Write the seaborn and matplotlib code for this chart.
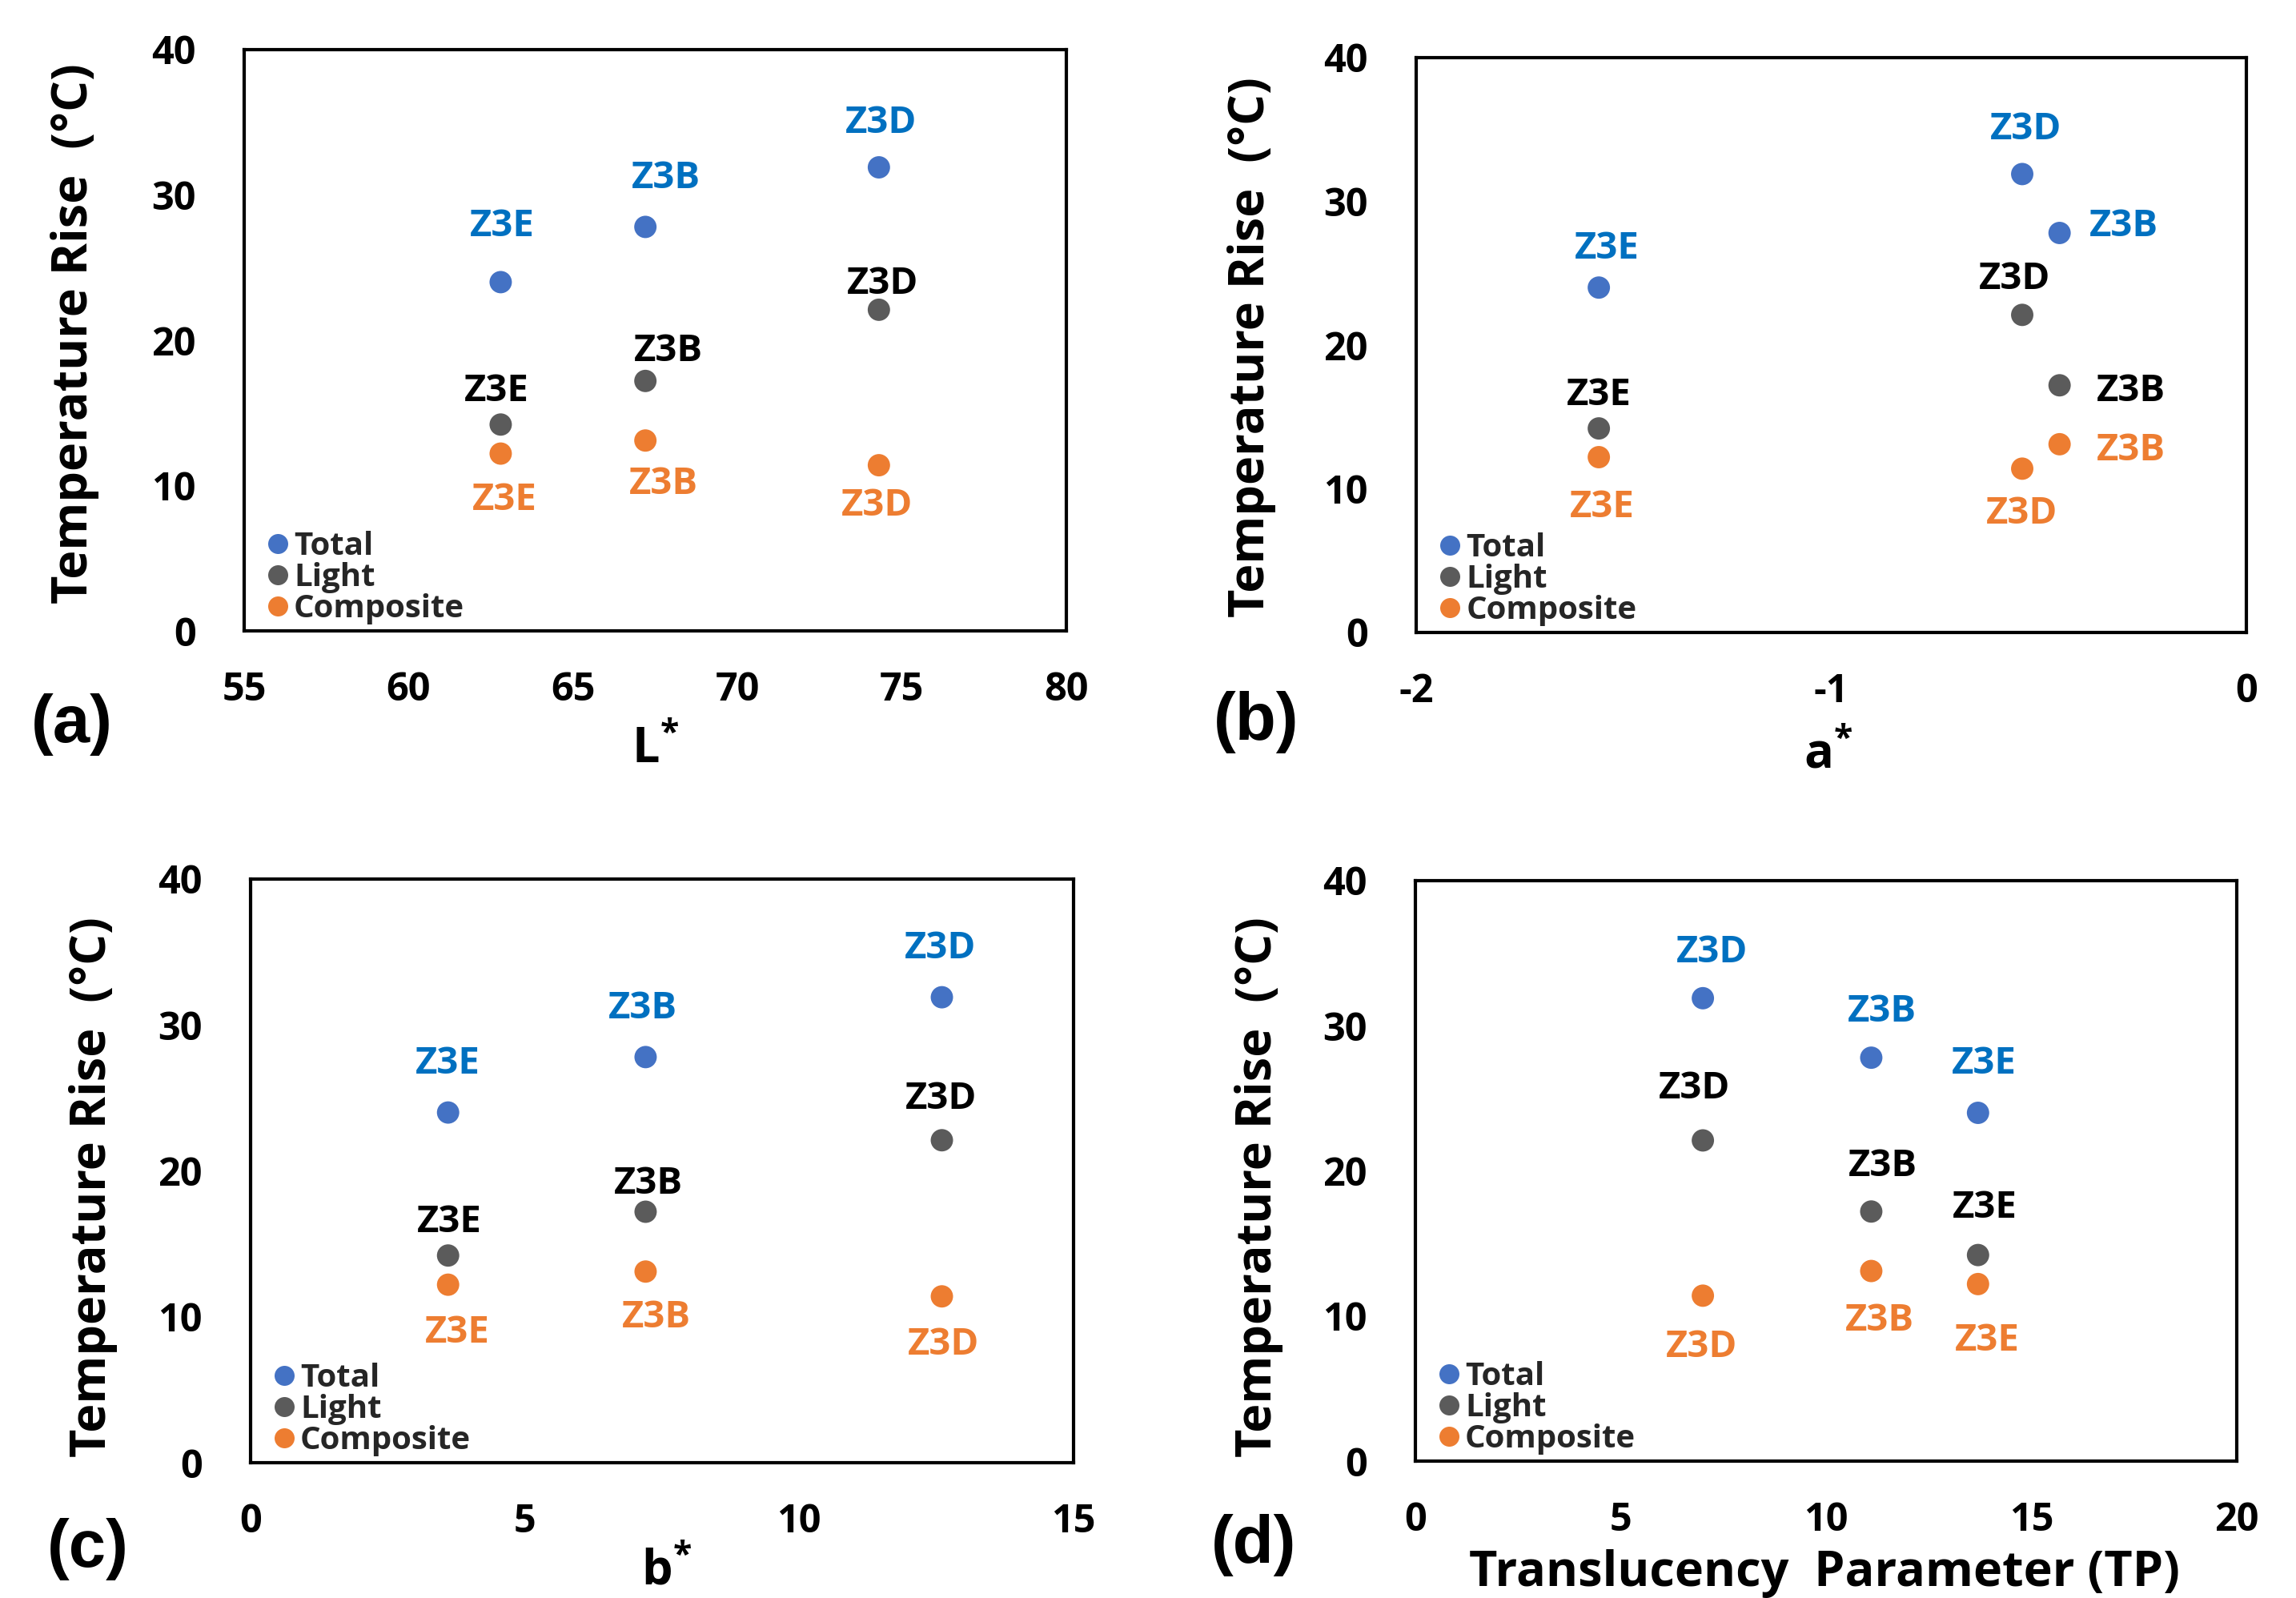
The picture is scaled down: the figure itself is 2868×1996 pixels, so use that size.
import matplotlib
matplotlib.use("Agg")
import matplotlib.pyplot as plt
import seaborn as sns
import pandas as pd
from matplotlib.lines import Line2D

# ---------------- data ----------------
samples = ["Z3E", "Z3B", "Z3D"]
L_star = [62.8, 67.2, 74.3]
a_star = [-1.56, -0.45, -0.54]
b_star = [3.6, 7.2, 12.6]
tp_values = [13.7, 11.1, 7.0]

total_rise = [24.0, 27.8, 31.9]
light_rise = [14.2, 17.2, 22.1]
composite_rise = [12.2, 13.1, 11.4]

series_names = ["Total", "Light", "Composite"]
panel_letters = ["(a)", "(b)", "(c)", "(d)"]
x_labels = ["L$^{*}$", "a$^{*}$", "b$^{*}$", "Translucency  Parameter (TP)"]
y_label = "Temperature Rise  (°C)"
x_limits = [(55, 80), (-2, 0), (0, 15), (0, 20)]
x_ticks = [[55, 60, 65, 70, 75, 80], [-2, -1, 0], [0, 5, 10, 15], [0, 5, 10, 15, 20]]
y_ticks = [0, 10, 20, 30, 40]

# ---------------- style ----------------
W, H, DPI = 2868, 1996, 200
PX = 72.0 / DPI  # pixel -> points
FONT = "Open Sans"

marker_colors = {"Total": "#4472C4", "Light": "#5B5B5B", "Composite": "#ED7D31"}
label_colors = {"Total": "#0070C0", "Light": "#000000", "Composite": "#ED7D31"}

sns.set_theme(style="white")
plt.rcParams["font.family"] = [FONT, "DejaVu Sans"]
plt.rcParams["font.weight"] = "bold"
plt.rcParams["axes.unicode_minus"] = False
plt.rcParams["mathtext.fontset"] = "custom"
plt.rcParams["mathtext.rm"] = FONT + ":bold"
plt.rcParams["mathtext.it"] = FONT + ":bold"
plt.rcParams["mathtext.bf"] = FONT + ":bold"
plt.rcParams["mathtext.default"] = "rm"

# axes rectangles in pixels: left, top, right, bottom
axes_px = [(305, 62, 1332, 788), (1769, 72, 2806, 790),
           (313, 1098, 1341, 1827), (1768, 1100, 2794, 1825)]
ylabel_pos = [(-0.206, 0.512), (-0.198, 0.497), (-0.191, 0.472), (-0.1905, 0.473)]
xlabel_pos = [(0.50, -0.226), (0.496, -0.235), (0.505, -0.2085), (0.498, -0.215)]
letter_px = [(90, 905), (1569, 902), (110, 1935), (1566, 1930)]

# label offsets (pixels), per panel / series / sample (Z3E, Z3B, Z3D): (dx, dy, ha)
label_offsets = [
    {"Total": [(2, 57, "center"), (26, 48, "center"), (3, 43, "center")],
     "Light": [(-5, 29, "center"), (29, 25, "center"), (5, 20, "center")],
     "Composite": [(5, -70, "center"), (23, -67, "center"), (-2, -63, "center")]},
    {"Total": [(10, 36, "center"), (37, -4, "left"), (5, 43, "center")],
     "Light": [(0, 29, "center"), (46, -20, "left"), (-9, 32, "center")],
     "Composite": [(4, -75, "center"), (46, -20, "left"), (0, -69, "center")]},
    {"Total": [(0, 49, "center"), (-4, 48, "center"), (-2, 49, "center")],
     "Light": [(2, 29, "center"), (3, 23, "center"), (-1, 39, "center")],
     "Composite": [(12, -72, "center"), (13, -70, "center"), (2, -73, "center")]},
    {"Total": [(8, 49, "center"), (14, 45, "center"), (11, 45, "center")],
     "Light": [(9, 47, "center"), (15, 44, "center"), (-11, 52, "center")],
     "Composite": [(12, -83, "center"), (11, -74, "center"), (-2, -77, "center")]},
]

x_sets = [L_star, a_star, b_star, tp_values]
y_sets = {"Total": total_rise, "Light": light_rise, "Composite": composite_rise}

fig = plt.figure(figsize=(W / DPI, H / DPI), dpi=DPI)

for i in range(4):
    l, t, r, b = axes_px[i]
    ax = fig.add_axes([l / W, 1 - b / H, (r - l) / W, (b - t) / H])
    rows = []
    for s in series_names:
        for k, smp in enumerate(samples):
            rows.append({"x": x_sets[i][k], "y": y_sets[s][k], "series": s, "sample": smp})
    df = pd.DataFrame(rows)
    sns.scatterplot(data=df, x="x", y="y", hue="series", hue_order=series_names,
                    palette=marker_colors, s=101, linewidth=0, legend=False,
                    ax=ax, zorder=3)
    for _, row in df.iterrows():
        k = samples.index(row["sample"])
        dx, dy, ha = label_offsets[i][row["series"]][k]
        ax.annotate(row["sample"], xy=(row["x"], row["y"]),
                    xytext=(dx * PX, dy * PX), textcoords="offset points",
                    ha=ha, va="baseline", fontsize=17, fontweight="bold",
                    color=label_colors[row["series"]], zorder=4)

    ax.set_xlim(*x_limits[i])
    ax.set_ylim(0, 40)
    ax.set_xticks(x_ticks[i])
    ax.set_yticks(y_ticks)
    ax.set_xticklabels([str(v) for v in x_ticks[i]])
    ax.tick_params(axis="both", length=0, labelsize=17.5, colors="black")
    ax.tick_params(axis="y", pad=60 * PX)
    ax.tick_params(axis="x", pad=50 * PX)
    for lab in ax.get_xticklabels() + ax.get_yticklabels():
        lab.set_fontweight("bold")
    for sp in ax.spines.values():
        sp.set_visible(True)
        sp.set_color("black")
        sp.set_linewidth(1.5)
    ax.grid(False)

    ax.set_ylabel(y_label, fontsize=22, fontweight="bold", va="center", color="black")
    ax.yaxis.set_label_coords(*ylabel_pos[i])
    ax.set_xlabel(x_labels[i], fontsize=22, fontweight="bold", va="baseline", color="black")
    ax.xaxis.set_label_coords(*xlabel_pos[i])

    handles = [Line2D([], [], marker="o", ls="", color=marker_colors[s],
                      markersize=9, markeredgewidth=0) for s in series_names]
    ax.legend(handles, series_names, loc="lower left", bbox_to_anchor=(0.029, 0.011),
              frameon=False, borderpad=0, borderaxespad=0, labelspacing=0,
              handlelength=0.6, handletextpad=0.2,
              prop={"size": 14.5, "weight": "bold"})

    lx, ly = letter_px[i]
    fig.text(lx / W, 1 - ly / H, panel_letters[i], ha="center", va="center",
             fontsize=30, fontweight="bold", color="black",
             family=["Liberation Sans", "DejaVu Sans"])

fig.savefig("out.png", dpi=DPI)
